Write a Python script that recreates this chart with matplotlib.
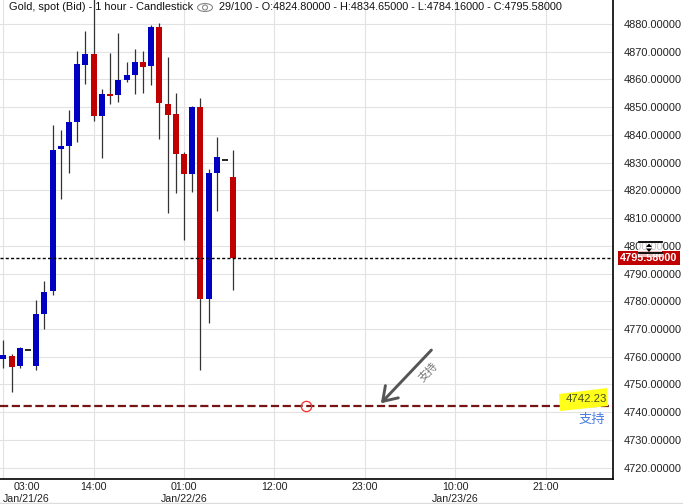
import matplotlib

matplotlib.use("Agg")
import matplotlib.dates as mdates
import matplotlib.pyplot as plt
import numpy as np
import pandas as pd
from matplotlib.lines import Line2D
from matplotlib.patches import Ellipse, Polygon, Rectangle

plt.rcParams["font.family"] = ["Liberation Sans", "DejaVu Sans"]

# hourly OHLC, 29 bars starting Jan 21 03:00
opens = [4759.2, 4760.3, 4756.7, 4762.3, 4756.8, 4775.5, 4783.8, 4835.0, 4836.1, 4844.7,
         4865.3, 4869.2, 4846.9, 4854.8, 4854.4, 4859.8, 4861.6, 4866.3, 4864.9, 4878.9,
         4851.2, 4847.5, 4833.1, 4825.9, 4850.1, 4780.8, 4826.3, 4830.8, 4824.80]
highs = [4766.0, 4761.0, 4763.6, 4762.3, 4780.5, 4787.3, 4843.6, 4841.8, 4849.0, 4870.3,
         4877.5, 4890.0, 4856.6, 4869.4, 4876.9, 4866.3, 4871.0, 4870.3, 4879.6, 4880.4,
         4868.1, 4855.0, 4833.9, 4850.4, 4853.2, 4827.7, 4839.3, 4830.8, 4834.65]
lows = [4756.1, 4747.4, 4756.1, 4762.3, 4755.2, 4770.1, 4782.3, 4816.8, 4826.4, 4837.6,
        4858.5, 4845.1, 4831.8, 4851.3, 4852.0, 4859.1, 4854.8, 4855.1, 4858.0, 4838.6,
        4812.0, 4819.2, 4802.1, 4819.5, 4755.2, 4772.3, 4812.7, 4830.8, 4784.16]
closes = [4760.6, 4756.3, 4763.2, 4762.3, 4775.4, 4783.4, 4834.6, 4836.1, 4844.7, 4865.6,
          4869.2, 4846.9, 4854.6, 4854.0, 4859.8, 4861.6, 4866.3, 4864.5, 4878.9, 4851.5,
          4847.3, 4833.1, 4825.9, 4850.1, 4780.8, 4826.3, 4832.0, 4830.8, 4795.58]

start = pd.Timestamp("2026-01-21 03:00")
times = pd.date_range(start, periods=len(opens), freq="h")

tick_times = pd.date_range(start, periods=7, freq="11h")
tick_labels = ["03:00\nJan/21/26", "14:00", "01:00\nJan/22/26", "12:00",
               "23:00", "10:00\nJan/23/26", "21:00"]
price_ticks = np.arange(4720, 4881, 10)

header_left = "Gold, spot (Bid) - 1 hour - Candlestick"
header_right = "29/100 - O:4824.80000 - H:4834.65000 - L:4784.16000 - C:4795.58000"

last_price = 4795.58
support_price = 4742.23
support_text = "支持"
circle_time = start + pd.Timedelta(hours=36.8)
arrow_tail = (start + pd.Timedelta(hours=52.1), 4762.4)
arrow_tip = (start + pd.Timedelta(hours=45.95), 4743.2)
arrow_text_pos = (start + pd.Timedelta(hours=51.7), 4754.3)

W, H = 683, 504
BLUE = "#0000c0"
RED = "#c00000"


def fx(px):
    return px / W


def fy(py):
    return 1 - py / H


fig = plt.figure(figsize=(W / 100, H / 100), dpi=100)
ax = fig.add_axes([0, 25 / H, 613 / W, 479 / H])

x = mdates.date2num(times)
o = np.array(opens)
c = np.array(closes)
hi = np.array(highs)
lo = np.array(lows)
width = 0.73 / 24

# wicks
ax.vlines(x, lo, hi, color="#333333", lw=0.9, zorder=2)

# bodies
is_doji = np.isclose(o, c)
body_colors = np.where(c > o, BLUE, RED)
ax.bar(x[~is_doji], np.abs(c - o)[~is_doji], width=width,
       bottom=np.minimum(o, c)[~is_doji], color=body_colors[~is_doji],
       linewidth=0, zorder=3)
ax.hlines(o[is_doji], x[is_doji] - width / 2, x[is_doji] + width / 2,
          color="black", lw=1.2, zorder=3)

# current price line and support line
ax.axhline(last_price, color="black", lw=1.0, dashes=(2.2, 1.6), zorder=4)
ax.axhline(support_price, color="#751414", lw=1.6, dashes=(3.7, 1.6), zorder=4)
ax.plot(mdates.date2num(circle_time), support_price, marker="o", ms=7.4,
        mfc="none", mec="#ff2a2a", mew=0.9, zorder=5)

ax.annotate("", xy=(mdates.date2num(arrow_tip[0]), arrow_tip[1]),
            xytext=(mdates.date2num(arrow_tail[0]), arrow_tail[1]),
            arrowprops=dict(arrowstyle="->,head_length=0.6,head_width=0.4",
                            color="#555555", lw=2.1, mutation_scale=16,
                            shrinkA=0, shrinkB=0), zorder=6)
ax.text(mdates.date2num(arrow_text_pos[0]), arrow_text_pos[1], support_text,
        rotation=46, rotation_mode="anchor", ha="center", va="center",
        fontsize=8, color="#777777", family=["Noto Sans CJK SC", "DejaVu Sans"],
        zorder=6)

# axes
ax.set_xlim(mdates.date2num(start - pd.Timedelta(hours=0.4)),
            mdates.date2num(start + pd.Timedelta(hours=74.2)))
ax.set_ylim(4715.9, 4888.65)
ax.set_xticks(mdates.date2num(tick_times))
ax.set_xticklabels(tick_labels)
first = ax.get_xticklabels()[0]
first.set_ha("left")
first.set_multialignment("center")
ax.set_yticks(price_ticks)
ax.set_yticklabels([f"{v:.5f}" for v in price_ticks])
ax.yaxis.tick_right()
ax.tick_params(axis="y", length=0, pad=8, labelsize=7.9, colors="#222222")
ax.tick_params(axis="x", length=0, pad=2.5, labelsize=7.7, colors="#222222")
ax.grid(True, color="#e2e2e2", lw=0.8, zorder=0)
ax.set_axisbelow(True)
for side in ("left", "top"):
    ax.spines[side].set_visible(False)
for side in ("right", "bottom"):
    ax.spines[side].set_linewidth(1.2)
    ax.spines[side].set_color("black")

# current price tag on the right axis
ax.text(649 / 613, last_price, f"{last_price:.5f}", transform=ax.get_yaxis_transform(),
        ha="center", va="center", color="white", fontweight="bold", fontsize=7.8,
        bbox=dict(boxstyle="square,pad=0.18", fc=RED, ec="none"), clip_on=False,
        zorder=7)

# scale handle drawn over the tag
fig.add_artist(Rectangle((fx(638), fy(257)), 24 / W, 17 / H, transform=fig.transFigure,
                         fc="white", ec="none", alpha=0.75))
for py in (241.5, 253):
    fig.add_artist(Line2D([fx(639), fx(662)], [fy(py), fy(py)], color="black", lw=1.3))
fig.add_artist(Polygon([(fx(646), fy(247)), (fx(652), fy(247)), (fx(649), fy(243.5))],
                       closed=True, transform=fig.transFigure, fc="black", ec="none"))
fig.add_artist(Polygon([(fx(646), fy(248.5)), (fx(652), fy(248.5)), (fx(649), fy(252))],
                       closed=True, transform=fig.transFigure, fc="black", ec="none"))

# support label
fig.add_artist(Polygon([(fx(559), fy(394)), (fx(607), fy(388)), (fx(608), fy(406)),
                        (fx(560), fy(411))], closed=True, transform=fig.transFigure,
                       fc="#ffff1a", ec="none"))
fig.text(fx(586), fy(399.5), f"{support_price:.2f}", ha="center", va="center",
         fontsize=8.2, color="#46512a")
fig.text(fx(592), fy(419), support_text, ha="center", va="center", fontsize=9.5,
         color="#4a7be0", family=["Noto Sans CJK SC", "DejaVu Sans"])

# header
fig.text(fx(9), fy(7), header_left, ha="left", va="center", fontsize=7.95, color="#111111")
fig.text(fx(219), fy(7), header_right, ha="left", va="center", fontsize=7.85,
         color="#111111")
fig.add_artist(Ellipse((fx(205), fy(7.5)), 15 / W, 8 / H, transform=fig.transFigure,
                       fc="none", ec="#888888", lw=0.8))
fig.add_artist(Ellipse((fx(205), fy(7.5)), 5 / W, 5 / H, transform=fig.transFigure,
                       fc="none", ec="#888888", lw=0.8))

fig.add_artist(Line2D([0, 1], [fy(503), fy(503)], color="#dddddd", lw=1))

fig.savefig("out.png", dpi=100)
